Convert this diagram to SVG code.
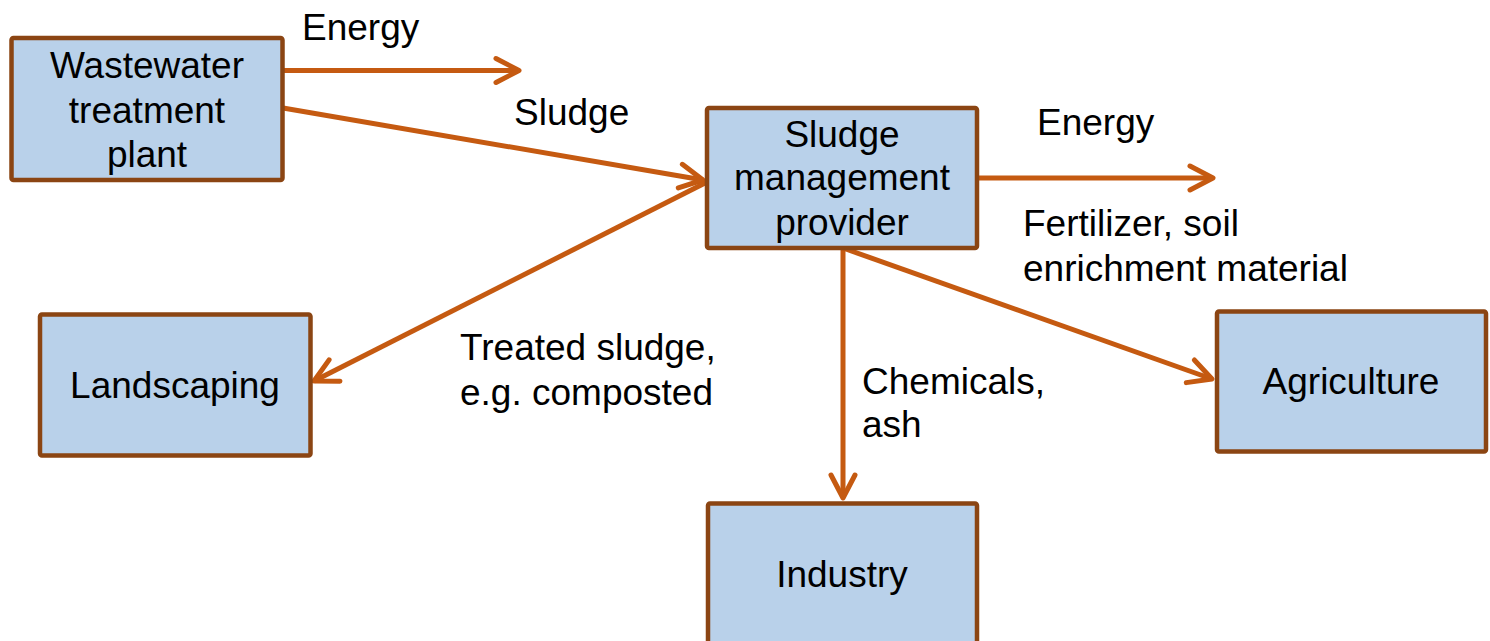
<svg xmlns="http://www.w3.org/2000/svg" width="1490" height="641" viewBox="0 0 1490 641">
<style>
.box{fill:#B9D1EA;stroke:#8B4513;stroke-width:4.5}
.t{font-family:"Liberation Sans",Arial,sans-serif;font-size:37px;fill:#000}
.c{text-anchor:middle}
.ln{stroke:#C55A11;stroke-width:5;fill:none}
</style>
<defs>
<marker id="arr" markerUnits="userSpaceOnUse" viewBox="-30 -16 36 32" refX="0" refY="0" markerWidth="36" markerHeight="32" orient="auto" overflow="visible">
<path d="M-23,-12 L0,0 L-23,12" fill="none" stroke="#C55A11" stroke-width="5" stroke-linecap="round" stroke-linejoin="round"/>
</marker>
</defs>
<rect width="1490" height="641" fill="#fff"/>
<g id="connectors">
<line class="ln" x1="283" y1="70.5" x2="519" y2="70.5" marker-end="url(#arr)"/>
<line class="ln" x1="283" y1="108" x2="703" y2="180" marker-end="url(#arr)"/>
<line class="ln" x1="707" y1="182" x2="314" y2="381" marker-end="url(#arr)"/>
<line class="ln" x1="978" y1="178" x2="1213" y2="178" marker-end="url(#arr)"/>
<line class="ln" x1="843" y1="248" x2="843" y2="498" marker-end="url(#arr)"/>
<line class="ln" x1="843" y1="248" x2="1212" y2="379" marker-end="url(#arr)"/>
<text class="t" x="302" y="40">Energy</text>
<text class="t" x="514" y="125">Sludge</text>
<text class="t" x="1037" y="135">Energy</text>
<text class="t" x="1023" y="236">Fertilizer, soil</text>
<text class="t" x="1023" y="281">enrichment material</text>
<text class="t" x="460" y="360">Treated sludge,</text>
<text class="t" x="460" y="405">e.g. composted</text>
<text class="t" x="862" y="394">Chemicals,</text>
<text class="t" x="862" y="437">ash</text>
</g>
<g id="wwtp">
<rect class="box" x="11.5" y="38" width="271" height="142" rx="2"/>
<text class="t c" x="147" y="78">Wastewater</text>
<text class="t c" x="147" y="123">treatment</text>
<text class="t c" x="147" y="167">plant</text>
</g>
<g id="smp">
<rect class="box" x="707" y="108" width="270" height="140" rx="2"/>
<text class="t c" x="842" y="147">Sludge</text>
<text class="t c" x="842" y="190">management</text>
<text class="t c" x="842" y="235">provider</text>
</g>
<g id="landscaping">
<rect class="box" x="40" y="314.5" width="270.5" height="141" rx="2"/>
<text class="t c" x="175" y="398">Landscaping</text>
</g>
<g id="agriculture">
<rect class="box" x="1217" y="311.5" width="269" height="140" rx="2"/>
<text class="t c" x="1351" y="394">Agriculture</text>
</g>
<g id="industry">
<rect class="box" x="708" y="503.5" width="269" height="160" rx="2"/>
<text class="t c" x="842" y="587">Industry</text>
</g>
</svg>
